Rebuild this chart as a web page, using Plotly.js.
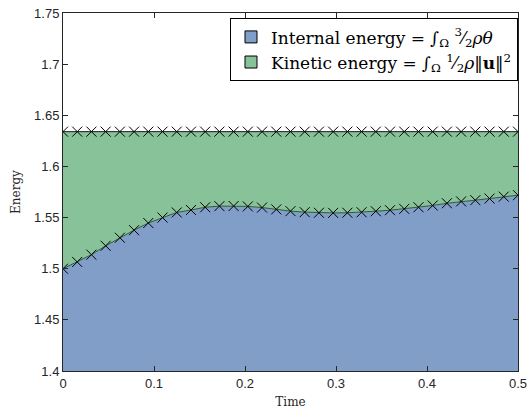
<!DOCTYPE html>
<html>
<head>
<meta charset="utf-8">
<script src="https://cdn.plot.ly/plotly-3.0.1.min.js"></script>
<style>html,body{margin:0;padding:0;background:#fff;}#chart{width:530px;height:411px;}</style>
</head>
<body>
<div id="chart"></div>
<script>
// Time samples (33 points, step 1/64)
const time = [0, 0.015625, 0.03125, 0.046875, 0.0625, 0.078125, 0.09375, 0.109375, 0.125,
  0.140625, 0.15625, 0.171875, 0.1875, 0.203125, 0.21875, 0.234375, 0.25,
  0.265625, 0.28125, 0.296875, 0.3125, 0.328125, 0.34375, 0.359375, 0.375,
  0.390625, 0.40625, 0.421875, 0.4375, 0.453125, 0.46875, 0.484375, 0.5];
// Internal energy (lower curve)
const internalEnergy = [1.5000, 1.5066, 1.5137, 1.5224, 1.5303, 1.5377, 1.5447, 1.5500, 1.5550,
  1.5574, 1.5601, 1.5612, 1.5613, 1.5609, 1.5598, 1.5580, 1.5563,
  1.5553, 1.5547, 1.5546, 1.5547, 1.5552, 1.5562, 1.5572, 1.5585,
  1.5601, 1.5618, 1.5640, 1.5658, 1.5670, 1.5686, 1.5705, 1.5719];
// Total energy = internal + kinetic (upper line)
const totalEnergy = [1.634, 1.634, 1.634, 1.634, 1.634, 1.634, 1.634, 1.634, 1.634,
  1.634, 1.634, 1.634, 1.634, 1.634, 1.634, 1.634, 1.634,
  1.634, 1.634, 1.634, 1.634, 1.634, 1.634, 1.634, 1.634,
  1.634, 1.634, 1.634, 1.634, 1.634, 1.634, 1.634, 1.634];
const legendNames = [
  "Internal energy = ∫<sub>Ω</sub> <sup>3</sup>⁄<sub>2</sub><i>ρθ</i>",
  "Kinetic energy = ∫<sub>Ω</sub> <sup>1</sup>⁄<sub>2</sub><i>ρ</i>‖<b>u</b>‖<sup>2</sup>"
];
const xTickVals = [0, 0.1, 0.2, 0.3, 0.4, 0.5];
const xTickText = ["0", "0.1", "0.2", "0.3", "0.4", "0.5"];
const yTickVals = [1.4, 1.45, 1.5, 1.55, 1.6, 1.65, 1.7, 1.75];
const yTickText = ["1.4", "1.45", "1.5", "1.55", "1.6", "1.65", "1.7", "1.75"];

const blue = "#809ec8";
const green = "#87c299";
const serif = "DejaVu Serif";
const markerStyle = {symbol: "x-thin-open", size: 10, color: "#000", line: {color: "#000", width: 1}};

const traces = [
  {x: time, y: internalEnergy, type: "scatter", mode: "lines", fill: "tozeroy",
   fillcolor: blue, line: {color: "#2c5a36", width: 1}, showlegend: false, hoverinfo: "skip"},
  {x: time, y: totalEnergy, type: "scatter", mode: "lines", fill: "tonexty",
   fillcolor: green, line: {color: "#1a1a1a", width: 1}, showlegend: false, hoverinfo: "skip"},
  {x: time, y: internalEnergy, type: "scatter", mode: "markers", marker: markerStyle, showlegend: false},
  {x: time, y: totalEnergy, type: "scatter", mode: "markers", marker: markerStyle, showlegend: false},
  {x: [null], y: [null], type: "bar", name: legendNames[0], marker: {color: blue, line: {color: "#000", width: 1}}, showlegend: true},
  {x: [null], y: [null], type: "bar", name: legendNames[1], marker: {color: green, line: {color: "#000", width: 1}}, showlegend: true}
];

const axisCommon = {
  showgrid: false, zeroline: false, showline: true, linecolor: "#262626", linewidth: 1,
  mirror: "ticks", ticks: "inside", ticklen: 5, tickwidth: 1, tickcolor: "#262626",
  tickfont: {family: "Liberation Sans", size: 13, color: "#262626"}
};

const layout = {
  width: 530, height: 411,
  margin: {l: 63, r: 12, t: 13, b: 40},
  paper_bgcolor: "#fff", plot_bgcolor: "#fff",
  font: {family: serif},
  xaxis: Object.assign({}, axisCommon, {
    range: [0, 0.5], tickmode: "array", tickvals: xTickVals, ticktext: xTickText,
    title: {text: "Time", font: {family: serif, size: 12, color: "#262626"}, standoff: 8}
  }),
  yaxis: Object.assign({}, axisCommon, {
    range: [1.4, 1.75], tickmode: "array", tickvals: yTickVals, ticktext: yTickText,
    title: {text: "Energy", font: {family: serif, size: 12, color: "#262626"}, standoff: 10}
  }),
  legend: {
    x: 1, y: 0.985, xanchor: "right", yanchor: "top", xref: "paper", yref: "paper",
    bgcolor: "#fff", bordercolor: "#000", borderwidth: 1, traceorder: "normal",
    font: {family: serif, size: 17, color: "#000"},
    tracegroupgap: 0, itemwidth: 30
  },
  showlegend: true
};

Plotly.newPlot("chart", traces, layout, {displayModeBar: false, staticPlot: true});
</script>
</body>
</html>
